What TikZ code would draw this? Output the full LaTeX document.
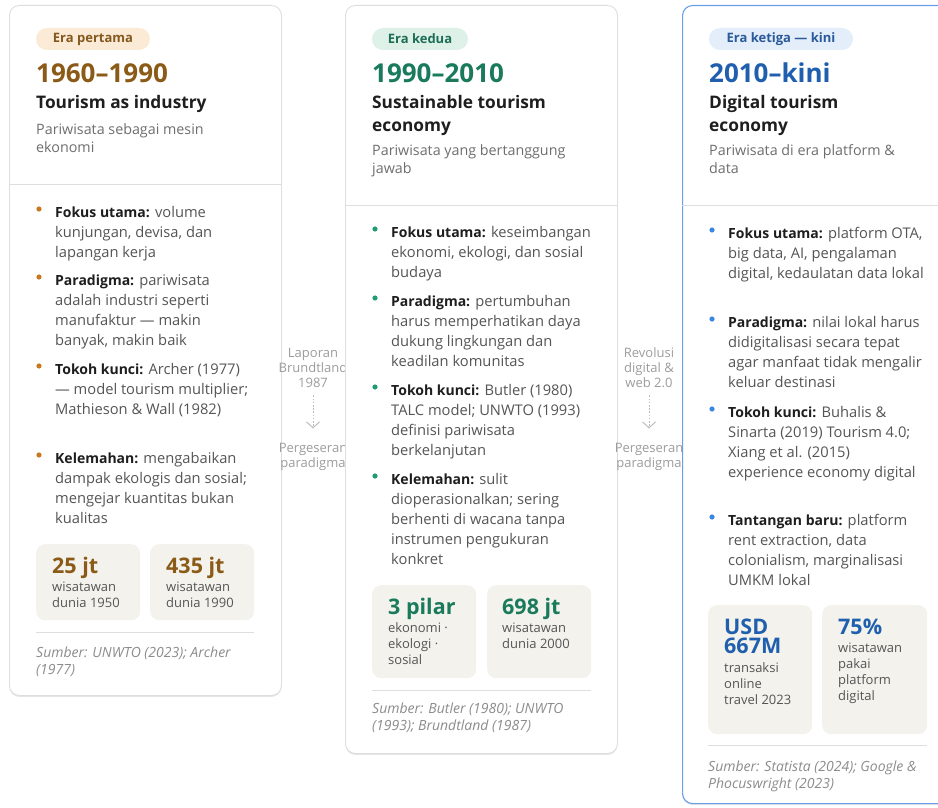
\documentclass[tikz,border=0pt]{standalone}
\usepackage{fontspec}
\setmainfont{Open Sans}
\usetikzlibrary{arrows.meta,shadows}

\definecolor{cardline}{HTML}{DEDEDE}
\definecolor{ink}{HTML}{1E1E1E}
\definecolor{bodygray}{HTML}{555555}
\definecolor{subgray}{HTML}{6E6E6E}
\definecolor{srcgray}{HTML}{8C8C8C}
\definecolor{conngray}{HTML}{9C9C9C}
\definecolor{arrowgray}{HTML}{BDBDBD}
\definecolor{statfill}{HTML}{F3F2EC}
\definecolor{brownA}{HTML}{8A5A16}
\definecolor{brownBadge}{HTML}{FBEBD6}
\definecolor{brownText}{HTML}{85581E}
\definecolor{brownDot}{HTML}{C8781A}
\definecolor{greenA}{HTML}{1A7A5C}
\definecolor{greenBadge}{HTML}{DDF1E9}
\definecolor{greenText}{HTML}{1E6E55}
\definecolor{greenDot}{HTML}{1E9E70}
\definecolor{blueA}{HTML}{1F5FAE}
\definecolor{blueBadge}{HTML}{E4EEFA}
\definecolor{blueText}{HTML}{2A5A9A}
\definecolor{blueDot}{HTML}{3A86E0}
\definecolor{blueLine}{HTML}{6A9EE8}

\newcommand{\fsz}[2]{\fontsize{#1}{#2}\selectfont}
% multi-line blocks whose baseline is the FIRST line
\newcommand{\tl}[1]{\vtop{\halign{##\hfil\cr#1\crcr}}}
\newcommand{\tc}[1]{\vtop{\halign{\hfil##\hfil\cr#1\crcr}}}
% #1 card left x, #2 first baseline y, #3 node name, #4 dot colour, #5 lines
\newcommand{\bulitem}[5]{%
  \fill[#4] (#1+30,#2-8) circle (2.6pt);
  \node[bodytext] (#3) at (#1+46,#2) {\tl{#5}};
}
\newcommand{\lbl}[1]{{\fontsize{14}{20}\selectfont\bfseries\color{ink}#1}}

\tikzset{
  card/.style={draw=cardline, fill=white, rounded corners=10pt, line width=0.9pt,
    anchor=north west, minimum width=272pt, inner sep=0pt,
    drop shadow={shadow xshift=0pt, shadow yshift=-1.5pt, opacity=0.10, fill=black}},
  badge/.style={rounded corners=11pt, minimum height=22pt, inner sep=0pt, font=\fsz{13}{15}\bfseries},
  yeartext/.style={anchor=base west, inner sep=0pt, font=\fsz{26}{28}\bfseries},
  titletext/.style={anchor=base west, inner sep=0pt, text=ink, font=\fsz{17.3}{23}\bfseries},
  subtext/.style={anchor=base west, inner sep=0pt, text=subgray, font=\fsz{14.3}{18}},
  bodytext/.style={anchor=base west, inner sep=0pt, text=bodygray, font=\fsz{14.7}{20}},
  divline/.style={draw=cardline, line width=0.9pt},
  statbox/.style={fill=statfill, rounded corners=9pt, anchor=north west, inner sep=0pt, minimum width=104pt},
  statnum/.style={anchor=base west, inner sep=0pt, font=\fsz{21.5}{19.5}\bfseries},
  statlbl/.style={anchor=base west, inner sep=0pt, text=bodygray, font=\fsz{13}{16}},
  srctext/.style={anchor=base west, inner sep=0pt, text=srcgray, font=\fsz{14}{17}\itshape},
  conntext/.style={anchor=base, inner sep=0pt, text=conngray, font=\fsz{13}{15}},
  connarrow/.style={draw=arrowgray, line width=1pt, dash pattern=on 1.6pt off 1.6pt,
    -{Straight Barb[length=6pt,width=13pt,line width=1pt]}},
}

\begin{document}
\begin{tikzpicture}[x=1pt,y=-1pt]
\useasboundingbox (0,0) rectangle (938,808);

% ================= CARD 1 =================
\node[card, minimum height=690pt] (card1) at (9,5) {};
\node[badge, fill=brownBadge, text=brownText, minimum width=114pt] (badge1) at (93,39) {Era pertama};
\node[yeartext, text=brownA] (year1) at (36,83) {1960–1990};
\node[titletext] (title1) at (36,109) {Tourism as industry};
\node[subtext] (sub1) at (36,134) {\tl{Pariwisata sebagai mesin\cr ekonomi}};
\draw[divline] (card1.west |- 0,184) -- (card1.east |- 0,184);

\bulitem{9}{217}{b11}{brownDot}{\lbl{Fokus utama:} volume\cr kunjungan, devisa, dan\cr lapangan kerja}
\bulitem{9}{285}{b12}{brownDot}{\lbl{Paradigma:} pariwisata\cr adalah industri seperti\cr manufaktur — makin\cr banyak, makin baik}
\bulitem{9}{374}{b13}{brownDot}{\lbl{Tokoh kunci:} Archer (1977)\cr — model tourism multiplier;\cr Mathieson \& Wall (1982)}
\bulitem{9}{463}{b14}{brownDot}{\lbl{Kelemahan:} mengabaikan\cr dampak ekologis dan sosial;\cr mengejar kuantitas bukan\cr kualitas}

\node[statbox, minimum height=76pt] (s11) at (36,544) {};
\node[statbox, minimum height=76pt] (s12) at (150,544) {};
\node[statnum, text=brownA] (n11) at (52,573) {25 jt};
\node[statlbl] (l11) at (52,591) {\tl{wisatawan\cr dunia 1950}};
\node[statnum, text=brownA] (n12) at (166,573) {435 jt};
\node[statlbl] (l12) at (166,591) {\tl{wisatawan\cr dunia 1990}};
\draw[divline] (s11.west |- 0,632) -- (s12.east |- 0,632);
\node[srctext] (src1) at (36,657) {\tl{Sumber: UNWTO (2023); Archer\cr (1977)}};

% ================= CONNECTOR 1 =================
\node[conntext] (c1a) at (313,357) {\tc{Laporan\cr Brundtland\cr 1987}};
\node[conntext] (c1b) at (313,452) {\tc{Pergeseran\cr paradigma}};
\draw[connarrow, shorten <=8pt, shorten >=14pt] (c1a) -- (c1b);

% ================= CARD 2 =================
\node[card, minimum height=748pt] (card2) at (345,5) {};
\node[badge, fill=greenBadge, text=greenText, minimum width=96pt] (badge2) at (420,39) {Era kedua};
\node[yeartext, text=greenA] (year2) at (372,83) {1990–2010};
\node[titletext] (title2) at (372,109) {\tl{Sustainable tourism\cr economy}};
\node[subtext] (sub2) at (372,155) {\tl{Pariwisata yang bertanggung\cr jawab}};
\draw[divline] (card2.west |- 0,205) -- (card2.east |- 0,205);

\bulitem{345}{237}{b21}{greenDot}{\lbl{Fokus utama:} keseimbangan\cr ekonomi, ekologi, dan sosial\cr budaya}
\bulitem{345}{306}{b22}{greenDot}{\lbl{Paradigma:} pertumbuhan\cr harus memperhatikan daya\cr dukung lingkungan dan\cr keadilan komunitas}
\bulitem{345}{395}{b23}{greenDot}{\lbl{Tokoh kunci:} Butler (1980)\cr TALC model; UNWTO (1993)\cr definisi pariwisata\cr berkelanjutan}
\bulitem{345}{484}{b24}{greenDot}{\lbl{Kelemahan:} sulit\cr dioperasionalkan; sering\cr berhenti di wacana tanpa\cr instrumen pengukuran\cr konkret}

\node[statbox, minimum height=93pt] (s21) at (372,585) {};
\node[statbox, minimum height=93pt] (s22) at (487,585) {};
\node[statnum, text=greenA] (n21) at (388,614) {3 pilar};
\node[statlbl] (l21) at (388,632) {\tl{ekonomi ·\cr ekologi ·\cr sosial}};
\node[statnum, text=greenA] (n22) at (502,614) {698 jt};
\node[statlbl] (l22) at (502,632) {\tl{wisatawan\cr dunia 2000}};
\draw[divline] (s21.west |- 0,690) -- (s22.east |- 0,690);
\node[srctext] (src2) at (372,713) {\tl{Sumber: Butler (1980); UNWTO\cr (1993); Brundtland (1987)}};

% ================= CONNECTOR 2 =================
\node[conntext] (c2a) at (649,357) {\tc{Revolusi\cr digital \&\cr web 2.0}};
\node[conntext] (c2b) at (649,452) {\tc{Pergeseran\cr paradigma}};
\draw[connarrow, shorten <=8pt, shorten >=14pt] (c2a) -- (c2b);

% ================= CARD 3 =================
\node[card, draw=blueLine, line width=1.1pt, minimum height=798pt] (card3) at (682,5) {};
\node[badge, fill=blueBadge, text=blueText, minimum width=144pt] (badge3) at (781,39) {Era ketiga — kini};
\node[yeartext, text=blueA] (year3) at (709,83) {2010–kini};
\node[titletext] (title3) at (709,109) {\tl{Digital tourism\cr economy}};
\node[subtext] (sub3) at (709,155) {\tl{Pariwisata di era platform \&\cr data}};
\draw[divline] (card3.west |- 0,205) -- (card3.east |- 0,205);

\bulitem{682}{238}{b31}{blueDot}{\lbl{Fokus utama:} platform OTA,\cr big data, AI, pengalaman\cr digital, kedaulatan data lokal}
\bulitem{682}{327}{b32}{blueDot}{\lbl{Paradigma:} nilai lokal harus\cr didigitalisasi secara tepat\cr agar manfaat tidak mengalir\cr keluar destinasi}
\bulitem{682}{417}{b33}{blueDot}{\lbl{Tokoh kunci:} Buhalis \&\cr Sinarta (2019) Tourism 4.0;\cr Xiang et al. (2015)\cr experience economy digital}
\bulitem{682}{525}{b34}{blueDot}{\lbl{Tantangan baru:} platform\cr rent extraction, data\cr colonialism, marginalisasi\cr UMKM lokal}

\node[statbox, minimum height=129pt] (s31) at (708,605) {};
\node[statbox, minimum height=129pt, minimum width=105pt] (s32) at (822,605) {};
\node[statnum, text=blueA] (n31) at (724,634) {\tl{USD\cr 667M}};
\node[statlbl] (l31) at (724,672) {\tl{transaksi\cr online\cr travel 2023}};
\node[statnum, text=blueA] (n32) at (838,634) {75\%};
\node[statlbl] (l32) at (838,652) {\tl{wisatawan\cr pakai\cr platform\cr digital}};
\draw[divline] (s31.west |- 0,745) -- (s32.east |- 0,745);
\node[srctext] (src3) at (708,771) {\tl{Sumber: Statista (2024); Google \&\cr Phocuswright (2023)}};

\end{tikzpicture}
\end{document}
